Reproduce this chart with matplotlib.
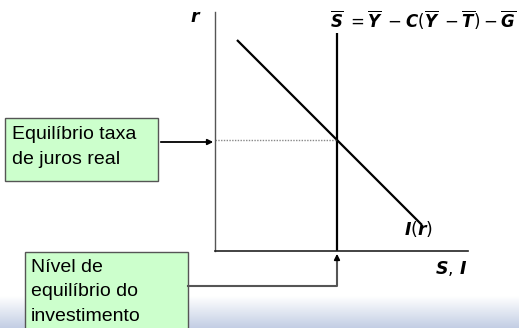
import numpy as np
import matplotlib
matplotlib.use("Agg")
import matplotlib.pyplot as plt
from matplotlib.patches import Rectangle

plt.rcParams['mathtext.fontset'] = 'custom'
plt.rcParams['mathtext.it'] = 'DejaVu Sans:italic:bold'
plt.rcParams['mathtext.rm'] = 'DejaVu Sans'
plt.rcParams['mathtext.bf'] = 'DejaVu Sans:bold'

# ---- model data (axis units) ----
invest_si = [22, 207]        # I(r) schedule: S,I values
invest_r = [211, 26]         # I(r) schedule: r values
saving_si = [122, 122]       # S-bar vertical schedule
saving_r = [0, 218]
eq_si = 122
eq_r = 111

label_rate = "Equilíbrio taxa\nde juros real"
label_inv = "Nível de\nequilíbrio do\ninvestimento"
eq_label = r"$\overline{S}\;=\overline{Y}\;-C(\overline{Y}\;-\overline{T})-\overline{G}$"

W, H = 519, 328
fig = plt.figure(figsize=(W / 100, H / 100), dpi=100)

# background overlay in pixel coordinates
bg = fig.add_axes([0, 0, 1, 1])
bg.set_xlim(0, W)
bg.set_ylim(H, 0)
bg.axis('off')
grad = np.linspace(0, 1, 64)[:, None]
cmap = matplotlib.colors.LinearSegmentedColormap.from_list('g', ['#ffffff', '#c3cee4'])
bg.imshow(grad, extent=[0, W, 328, 296], cmap=cmap, aspect='auto', zorder=0)

# main chart axes
x0, y0 = 215, 251
ax = fig.add_axes([x0 / W, (H - y0) / H, 253 / W, 239 / H])
ax.set_xlim(0, 253)
ax.set_ylim(0, 239)
ax.patch.set_alpha(0)
for s in ['top', 'right']:
    ax.spines[s].set_visible(False)
ax.spines['left'].set_color('#555555')
ax.spines['bottom'].set_color('#222222')
ax.spines['left'].set_linewidth(1.0)
ax.spines['bottom'].set_linewidth(1.2)
ax.set_xticks([])
ax.set_yticks([])

ax.plot(invest_si, invest_r, color='black', lw=1.6, solid_capstyle='butt')
ax.plot(saving_si, saving_r, color='black', lw=1.6, solid_capstyle='butt')
ax.plot([0, eq_si], [eq_r, eq_r], color='#888888', lw=1.0, ls=(0, (1, 1)))

# labels
bg.text(196, 17, r"$r$", fontsize=12.5, ha='center', va='center')
bg.text(423, 20, eq_label, fontsize=12, ha='center', va='center')
bg.text(419, 229, r"$I(r)$", fontsize=12.5, ha='center', va='center')
bg.text(451, 268, r"$S,\,I$", fontsize=12.5, ha='center', va='center')

# box 1
bg.add_patch(Rectangle((5, 118), 153, 63, facecolor='#ccffcc', edgecolor='#555555', lw=1.0, zorder=3))
bg.text(12, 147, label_rate, fontsize=14, family='Liberation Sans', va='center', ha='left',
        linespacing=1.6, zorder=4)
bg.annotate('', xy=(216, 142), xytext=(158, 142),
            arrowprops=dict(arrowstyle='-|>', color='black', lw=1.3, mutation_scale=8), zorder=4)

# box 2
bg.add_patch(Rectangle((25, 252), 163, 90, facecolor='#ccffcc', edgecolor='#555555', lw=1.0, zorder=3))
bg.text(31, 292, label_inv, fontsize=14, family='Liberation Sans', va='center', ha='left',
        linespacing=1.6, zorder=4)
bg.plot([188, 337, 337], [286, 286, 262], color='#555555', lw=1.5, zorder=4)
bg.annotate('', xy=(337, 251), xytext=(337, 263),
            arrowprops=dict(arrowstyle='-|>', color='black', lw=1.3, mutation_scale=8), zorder=4)

fig.savefig('out.png', dpi=100)
